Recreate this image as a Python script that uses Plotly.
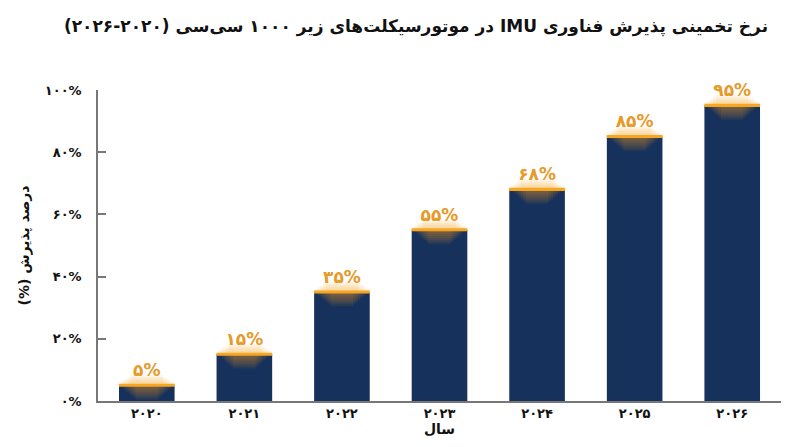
import plotly.graph_objects as go

years = ["۲۰۲۰", "۲۰۲۱", "۲۰۲۲", "۲۰۲۳", "۲۰۲۴", "۲۰۲۵", "۲۰۲۶"]
adoption = [5, 15, 35, 55, 68, 85, 95]
labels = ["۵%", "۱۵%", "۳۵%", "۵۵%", "۶۸%", "۸۵%", "۹۵%"]
y_ticks = [0, 20, 40, 60, 80, 100]
y_tick_labels = ["۰%", "۲۰%", "۴۰%", "۶۰%", "۸۰%", "۱۰۰%"]

RLE, PDF, RLM = "\u202b", "\u202c", "\u200f"
title_text = RLE + "نرخ تخمینی پذیرش فناوری IMU در موتورسیکلت‌های زیر ۱۰۰۰ سی‌سی (۲۰۲۰" + RLM + "-" + RLM + "۲۰۲۶)" + PDF
y_title = RLE + "درصد پذیرش (%)" + PDF
x_title = "سال"

NAVY = "#16325c"
ORANGE = "#f5a623"
LABEL = "#e69a2a"
FONT = "DejaVu Sans"
BW = 0.57

fig = go.Figure()

# main bars
fig.add_trace(go.Bar(x=years, y=adoption, width=BW, marker=dict(color=NAVY, line=dict(width=0)),
                     hoverinfo="skip", showlegend=False))

# soft elliptical glow below the cap (inside the bar)
for j in range(1, 8):
    down = 0.65 * j
    w = BW * (1.0 - 0.085 * j)
    fig.add_trace(go.Bar(x=years, y=[down] * len(adoption), base=[v - down for v in adoption],
                         width=w, marker=dict(color="rgba(240,150,40,0.085)", line=dict(width=0)),
                         hoverinfo="skip", showlegend=False))

# soft halo above the cap
for j in range(1, 7):
    up = 0.55 * j
    w = BW * (1.18 - 0.1 * j)
    fig.add_trace(go.Bar(x=years, y=[up] * len(adoption), base=adoption,
                         width=w, marker=dict(color="rgba(245,170,40,0.1)", line=dict(width=0)),
                         hoverinfo="skip", showlegend=False))

# orange cap line
fig.add_trace(go.Bar(x=years, y=[1.0] * len(adoption), base=[v - 0.45 for v in adoption], width=BW,
                     marker=dict(color=ORANGE, line=dict(width=0)), hoverinfo="skip", showlegend=False))

# value labels
fig.add_trace(go.Scatter(x=years, y=[v + 1.6 for v in adoption], mode="text", text=labels,
                         textposition="top center", cliponaxis=False,
                         textfont=dict(family=FONT, size=17, color=LABEL, weight="bold"),
                         hoverinfo="skip", showlegend=False))

fig.update_layout(
    width=800, height=447,
    margin=dict(l=90, r=27, t=82, b=54),
    barmode="overlay",
    paper_bgcolor="white", plot_bgcolor="white",
    title=dict(text=title_text, x=0.51, xanchor="center", y=0.96, yanchor="middle",
               font=dict(family=FONT, size=17, color="#111111", weight="bold")),
    font=dict(family=FONT, color="#111111"),
)
fig.update_xaxes(
    type="category", showline=True, linecolor="#777777", linewidth=1.5, ticks="",
    showgrid=False, tickfont=dict(family=FONT, size=13, color="#111111", weight="bold"),
    ticklabelstandoff=0,
    title=dict(text=x_title, font=dict(family=FONT, size=14, color="#111111", weight="bold"), standoff=4),
)
fig.update_yaxes(
    range=[0, 100], tickvals=y_ticks, ticktext=y_tick_labels, showline=True, linecolor="#777777",
    linewidth=1.5, ticks="inside", ticklen=8, tickcolor="#777777", tickwidth=1.5, showgrid=False,
    zeroline=False, ticklabelstandoff=12,
    tickfont=dict(family=FONT, size=13, color="#111111", weight="bold"),
    title=dict(text=y_title, font=dict(family=FONT, size=14, color="#111111", weight="bold"), standoff=12),
)

fig.write_html("out.html")
